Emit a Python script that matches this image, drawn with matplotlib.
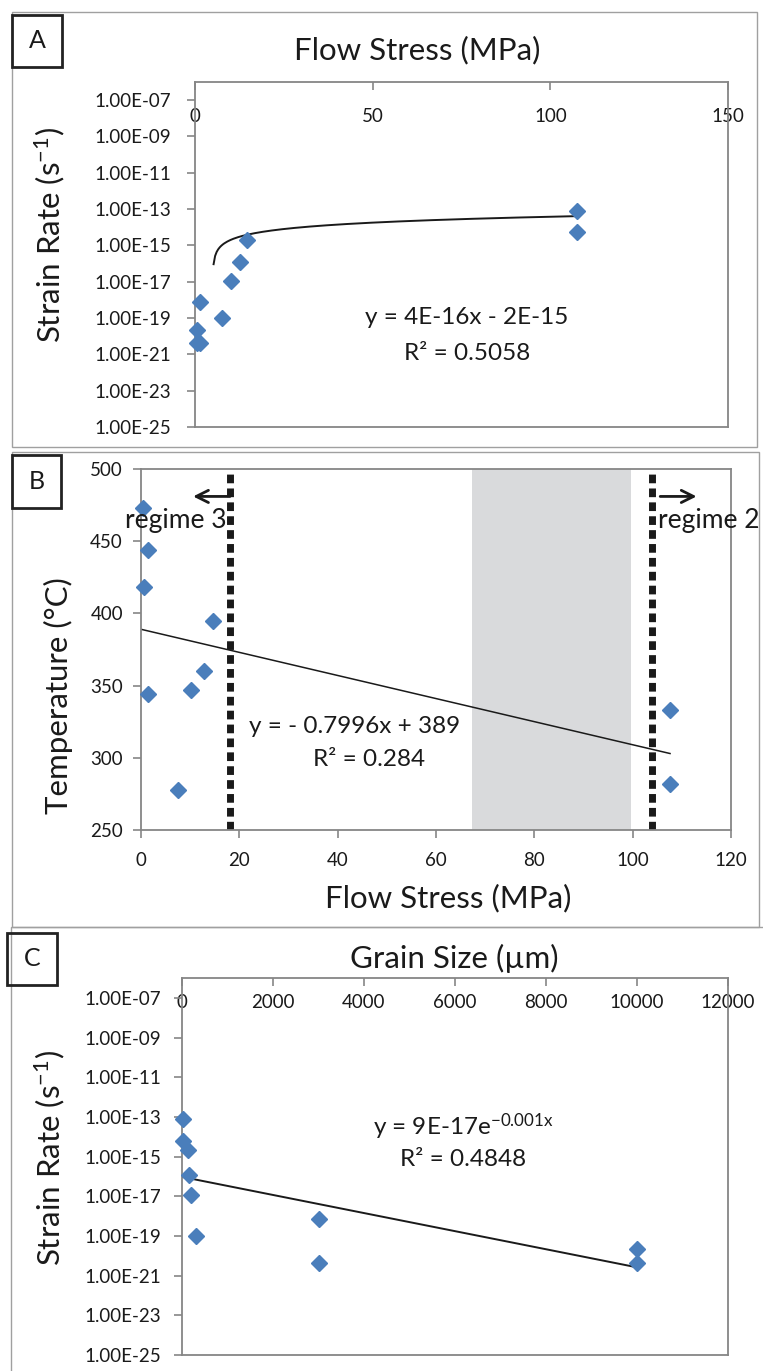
import matplotlib
matplotlib.use("Agg")
import matplotlib.pyplot as plt
import numpy as np
from matplotlib.patches import Rectangle
from matplotlib.ticker import FuncFormatter, NullLocator

plt.rcParams['font.family'] = ['Lato', 'DejaVu Sans']
plt.rcParams['mathtext.default'] = 'regular'

# samples (same order in every panel)
flow_stress = [0.5, 1.5, 0.6, 14.7, 12.8, 10.2, 1.5, 7.5, 107.6, 107.6]      # MPa
strain_rate = [2.1e-20, 7.5e-19, 4.5e-21, 2.1e-15, 1.15e-16, 1.1e-17, 4.5e-21, 1.0e-19, 8.0e-14, 5.8e-15]
temperature = [473, 444, 418, 395, 360, 347, 344, 278, 333, 282]           # deg C
grain_size = [10000, 3000, 10000, 128, 160, 190, 3000, 300, 15, 20]        # um

# trendline coefficients
fitA = (4e-16, -2e-15)          # linear
fitB = (-0.7996, 389)           # linear
fitC = (9.5e-17, -0.00105)      # exponential

regime_lines = [18, 104]
gray_band = [67.3, 99.6]

W, H = 763, 1371
blue = '#4a7ebb'
spine_c = '#868686'
ink = '#1a1a1a'

fig = plt.figure(figsize=(W / 100, H / 100), dpi=100)


def box(x0, y0, x1, y1):
    return [x0 / W, 1 - y1 / H, (x1 - x0) / W, (y1 - y0) / H]


def ftext(x, y, s, **kw):
    fig.text(x / W, 1 - y / H, s, color=ink, **kw)


def frame(x0, y0, x1, y1, lw=1.0, ec='#a0a0a0'):
    fig.add_artist(Rectangle((x0 / W, 1 - y1 / H), (x1 - x0) / W, (y1 - y0) / H,
                             transform=fig.transFigure, fill=False, lw=lw, ec=ec))


def style(ax):
    for s in ax.spines.values():
        s.set_color(spine_c)
        s.set_linewidth(1.3)
    ax.tick_params(colors=spine_c, labelcolor=ink, labelsize=13.5, length=6, width=1.2)


sci = FuncFormatter(lambda v, p: f"{v:.2E}")
decades = [10.0 ** e for e in range(-25, -6, 2)]

# panel frames and letters
frame(12, 12, 757, 447)
frame(12, 452, 759, 927)
frame(11, 927, 800, 1400)
for (x0, y0, x1, y1), lab in zip([(12, 15, 62, 67), (12, 455, 61, 508), (7, 933, 57, 985)], 'ABC'):
    frame(x0, y0, x1, y1, lw=2.0, ec='#222222')
    ftext((x0 + x1) / 2, (y0 + y1) / 2, lab, ha='center', va='center', fontsize=18)

# ---- A
axA = fig.add_axes(box(195, 82, 728, 427))
axA.set_yscale('log')
axA.set_xlim(0, 150)
axA.set_ylim(1e-25, 1e-6)
axA.set_yticks(decades)
axA.yaxis.set_major_formatter(sci)
axA.yaxis.set_minor_locator(NullLocator())
axA.set_xticks([0, 50, 100, 150])
axA.xaxis.tick_top()
style(axA)
axA.tick_params(axis='x', direction='in', pad=-31)
axA.tick_params(axis='y', pad=11)
xa = np.linspace(min(flow_stress), max(flow_stress), 250)
ya = fitA[0] * xa + fitA[1]
axA.plot(xa[ya > 0], ya[ya > 0], color=ink, lw=1.4)
axA.plot(flow_stress, strain_rate, 'D', color=blue, ms=8, clip_on=False, zorder=3)
ftext(417, 50, 'Flow Stress (MPa)', ha='center', va='center', fontsize=22.5)
ftext(50, 235, 'Strain Rate (s$^{-1}$)', ha='center', va='center', rotation=90, fontsize=22.5)
ftext(467, 318, 'y = 4E-16x - 2E-15', ha='center', va='center', fontsize=17.5)
ftext(467, 353, 'R² = 0.5058', ha='center', va='center', fontsize=17.5)

# ---- B
axB = fig.add_axes(box(141, 469, 731, 830))
axB.set_xlim(0, 120)
axB.set_ylim(250, 500)
axB.set_xticks(range(0, 121, 20))
axB.set_yticks(range(250, 501, 50))
style(axB)
axB.tick_params(axis='x', pad=10)
axB.tick_params(axis='y', pad=7)
axB.axvspan(gray_band[0], gray_band[1], color='#d9dadc', lw=0, zorder=0)
for xv in regime_lines:
    axB.axvline(xv, color=ink, lw=5.0, ls=(0, (1.25, 0.75)), zorder=2)
xb = np.array([0, max(flow_stress)])
axB.plot(xb, fitB[0] * xb + fitB[1], color=ink, lw=1.1, zorder=2)
axB.plot(flow_stress, temperature, 'D', color=blue, ms=8, clip_on=False, zorder=3)
axB.annotate('', xy=(10.6, 481), xytext=(18.1, 481), annotation_clip=False,
             arrowprops=dict(arrowstyle='->', color=ink, lw=2.0, mutation_scale=22,
                             shrinkA=0, shrinkB=0))
axB.annotate('', xy=(113.0, 481), xytext=(105.6, 481), annotation_clip=False,
             arrowprops=dict(arrowstyle='->', color=ink, lw=2.0, mutation_scale=22,
                             shrinkA=0, shrinkB=0))
axB.text(17.4, 459, 'regime 3', ha='right', va='baseline', fontsize=19, color=ink)
axB.text(105.2, 459, 'regime 2', ha='left', va='baseline', fontsize=19, color=ink, clip_on=False)
ftext(355, 727, 'y = - 0.7996x + 389', ha='center', va='center', fontsize=17.5)
ftext(369, 760, 'R² = 0.284', ha='center', va='center', fontsize=17.5)
ftext(448, 898, 'Flow Stress (MPa)', ha='center', va='center', fontsize=22.5)
ftext(58, 696, 'Temperature (°C)', ha='center', va='center', rotation=90, fontsize=22.5)

# ---- C
axC = fig.add_axes(box(182, 978, 728, 1355))
axC.set_yscale('log')
axC.set_xlim(0, 12000)
axC.set_ylim(1e-25, 1e-6)
axC.set_yticks(decades)
axC.yaxis.set_major_formatter(sci)
axC.yaxis.set_minor_locator(NullLocator())
axC.set_xticks(range(0, 12001, 2000))
axC.xaxis.tick_top()
style(axC)
axC.tick_params(axis='x', direction='in', pad=-24)
axC.tick_params(axis='y', pad=9)
xc = np.linspace(min(grain_size), max(grain_size), 100)
axC.plot(xc, fitC[0] * np.exp(fitC[1] * xc), color=ink, lw=1.4)
axC.plot(grain_size, strain_rate, 'D', color=blue, ms=8, clip_on=False, zorder=3)
ftext(454, 958, 'Grain Size (µm)', ha='center', va='center', fontsize=22.5)
ftext(50, 1158, 'Strain Rate (s$^{-1}$)', ha='center', va='center', rotation=90, fontsize=22.5)
ftext(463, 1127, 'y = 9E-17e$^{-0.001x}$', ha='center', va='center', fontsize=17.5)
ftext(463, 1160, 'R² = 0.4848', ha='center', va='center', fontsize=17.5)

fig.savefig('out.png', dpi=100)
